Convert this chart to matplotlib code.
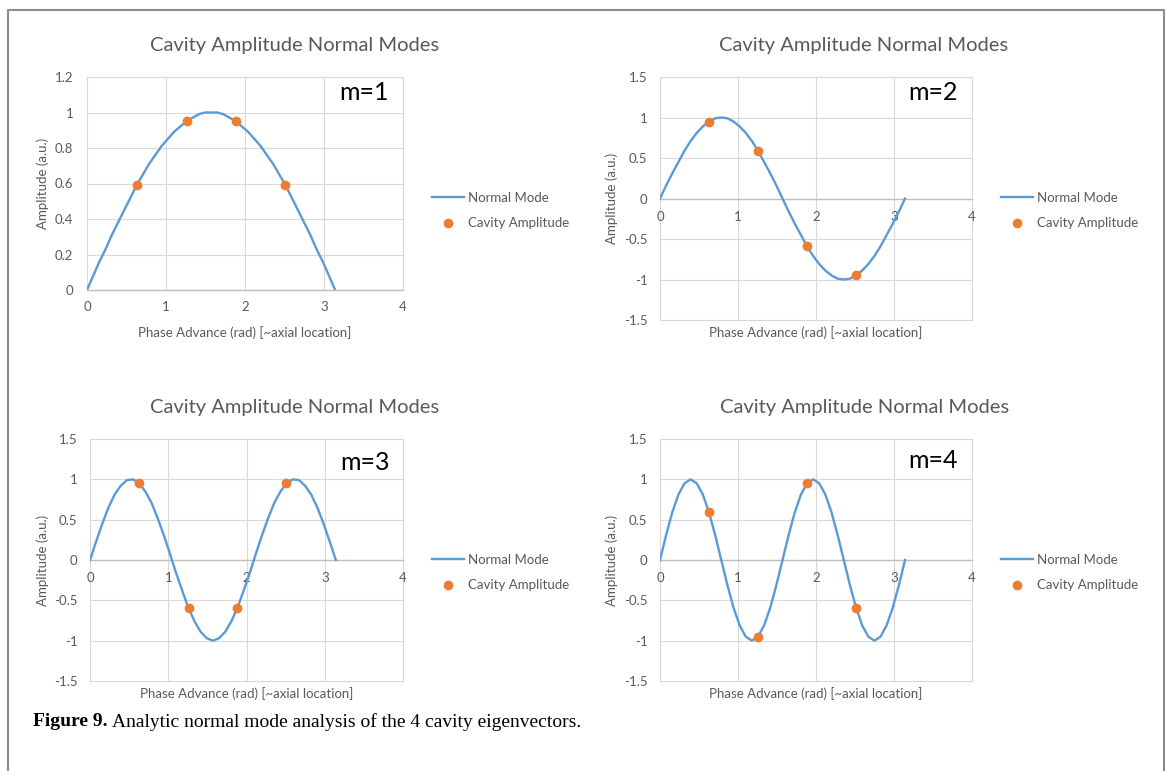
import numpy as np
import matplotlib.pyplot as plt
from matplotlib.lines import Line2D

plt.rcParams['font.family'] = ['Lato', 'DejaVu Sans']

## normal mode curves on a 41 point phase grid (0 .. pi)
phase = np.linspace(0, 3.1416, 41)

mode_1 = [0.00, 0.08, 0.16, 0.23, 0.31, 0.38, 0.45, 0.52, 0.59, 0.65, 0.71,
          0.76, 0.81, 0.85, 0.89, 0.92, 0.95, 0.97, 0.99, 1.00, 1.00, 1.00,
          0.99, 0.97, 0.95, 0.92, 0.89, 0.85, 0.81, 0.76, 0.71, 0.65, 0.59,
          0.52, 0.45, 0.38, 0.31, 0.23, 0.16, 0.08, 0.00]
mode_2 = [0.00, 0.16, 0.31, 0.45, 0.59, 0.71, 0.81, 0.89, 0.95, 0.99, 1.00,
          0.99, 0.95, 0.89, 0.81, 0.71, 0.59, 0.45, 0.31, 0.16, 0.00, -0.16,
          -0.31, -0.45, -0.59, -0.71, -0.81, -0.89, -0.95, -0.99, -1.00,
          -0.99, -0.95, -0.89, -0.81, -0.71, -0.59, -0.45, -0.31, -0.16, 0.00]
mode_3 = [0.00, 0.23, 0.45, 0.65, 0.81, 0.92, 0.99, 1.00, 0.95, 0.85, 0.71,
          0.52, 0.31, 0.08, -0.16, -0.38, -0.59, -0.76, -0.89, -0.97, -1.00,
          -0.97, -0.89, -0.76, -0.59, -0.38, -0.16, 0.08, 0.31, 0.52, 0.71,
          0.85, 0.95, 1.00, 0.99, 0.92, 0.81, 0.65, 0.45, 0.23, 0.00]
mode_4 = [0.00, 0.31, 0.59, 0.81, 0.95, 1.00, 0.95, 0.81, 0.59, 0.31, 0.00,
          -0.31, -0.59, -0.81, -0.95, -1.00, -0.95, -0.81, -0.59, -0.31, 0.00,
          0.31, 0.59, 0.81, 0.95, 1.00, 0.95, 0.81, 0.59, 0.31, 0.00,
          -0.31, -0.59, -0.81, -0.95, -1.00, -0.95, -0.81, -0.59, -0.31, 0.00]

## cavity amplitudes
cavity_phase = [0.63, 1.26, 1.88, 2.51]
cavity_1 = [0.59, 0.95, 0.95, 0.59]
cavity_2 = [0.95, 0.59, -0.59, -0.95]
cavity_3 = [0.95, -0.59, -0.59, 0.95]
cavity_4 = [0.59, -0.95, 0.95, -0.59]

mode_labels = ["m=1", "m=2", "m=3", "m=4"]
x_ticks = [0, 1, 2, 3, 4]
y_ticks_first = [0, 0.2, 0.4, 0.6, 0.8, 1.0, 1.2]
y_labels_first = ["0", "0.2", "0.4", "0.6", "0.8", "1", "1.2"]
y_ticks_rest = [-1.5, -1, -0.5, 0, 0.5, 1, 1.5]
y_labels_rest = ["-1.5", "-1", "-0.5", "0", "0.5", "1", "1.5"]

modes = [mode_1, mode_2, mode_3, mode_4]
cavities = [cavity_1, cavity_2, cavity_3, cavity_4]

W, H = 1170, 771
fig = plt.figure(figsize=(W/100, H/100), dpi=100)

grey = "#595959"
blue = "#5B9BD5"
orange = "#ED7D31"

## pixel boxes: left, top, right, bottom of each plot area
boxes = [(87, 77, 403, 290), (660, 77, 972, 320),
         (90, 439, 403, 681), (660, 439, 972, 681)]
title_pos = [(295, 46), (864, 46), (295, 408), (865, 408)]
m_pos = [(364, 92), (933, 92), (365, 462), (933, 460)]
xlab_y = [333, 333, 694, 694]
ylab_x = [43, 612, 43, 612]
leg_pos = [(432, 210.5), (1001, 210.5), (432, 572.5), (1001, 572.5)]


def fx(px):
    return px / W


def fy(py):
    return 1 - py / H


for i in range(4):
    l, t, r, b = boxes[i]
    ax = fig.add_axes([fx(l), fy(b), (r - l)/W, (b - t)/H])
    ax.plot(phase, modes[i], color=blue, lw=1.7, label="Normal Mode", zorder=3,
            solid_joinstyle='round')
    ax.plot(cavity_phase, cavities[i], 'o', color=orange, ms=6,
            label="Cavity Amplitude", zorder=4)

    ax.set_xlim(0, 4)
    ax.set_xticks(x_ticks)
    if i == 0:
        ax.set_ylim(0, 1.2)
        ax.set_yticks(y_ticks_first)
        ax.set_yticklabels(y_labels_first)
        xpad = 8
        ypad = 10
    else:
        ax.set_ylim(-1.5, 1.5)
        ax.set_yticks(y_ticks_rest)
        ax.set_yticklabels(y_labels_rest)
        ax.spines['bottom'].set_position(('data', 0))
        xpad = 9
        ypad = 9

    for s in ['top', 'right', 'left']:
        ax.spines[s].set_visible(False)
    ax.spines['bottom'].set_color("#BFBFBF")
    ax.spines['bottom'].set_linewidth(1.0)
    ax.spines['bottom'].set_zorder(2)
    ax.grid(True, color="#D9D9D9", lw=0.8, zorder=0)
    ax.set_axisbelow(True)
    ax.tick_params(axis='x', length=0, pad=xpad, labelsize=9.5, labelcolor=grey)
    ax.tick_params(axis='y', length=0, pad=ypad, labelsize=9.5, labelcolor=grey)
    for gl in ax.get_xgridlines() + ax.get_ygridlines():
        gl.set_clip_on(False)

    ax.legend(loc='center left', bbox_to_anchor=(fx(leg_pos[i][0]), fy(leg_pos[i][1])),
              bbox_transform=fig.transFigure, frameon=False, fontsize=9.5,
              borderpad=0, borderaxespad=0, handlelength=2.4, handletextpad=0.3,
              labelspacing=1.05, numpoints=1, labelcolor=grey)

    fig.text(fx(title_pos[i][0]), fy(title_pos[i][1]), "Cavity Amplitude Normal Modes",
             ha='center', va='center', fontsize=14.5, color=grey)
    fig.text(fx(m_pos[i][0]), fy(m_pos[i][1]), mode_labels[i],
             ha='center', va='center', fontsize=18, color='black')
    fig.text(fx((l + r)/2), fy(xlab_y[i]), "Phase Advance (rad) [~axial location]",
             ha='center', va='center', fontsize=9.5, color=grey)
    fig.text(fx(ylab_x[i]), fy((t + b)/2), "Amplitude (a.u.)", rotation=90,
             ha='center', va='center', fontsize=9.5, color=grey)

## outer frame of the figure box
frame = Line2D([fx(8), fx(8), fx(1164), fx(1164)], [0, fy(10), fy(10), 0],
               transform=fig.transFigure, color="#8C8C8C", lw=1.5)
fig.add_artist(frame)

## caption, bold label then plain text
cap1 = fig.text(fx(33), fy(722), "Figure 9.", ha='left', va='center',
                fontsize=14, fontweight='bold', family='Liberation Serif')
fig.canvas.draw()
ext = cap1.get_window_extent(renderer=fig.canvas.get_renderer())
fig.text(fx(ext.x1 + 4), fy(722), "Analytic normal mode analysis of the 4 cavity eigenvectors.",
         ha='left', va='center', fontsize=14, family='Liberation Serif')

fig.savefig("out.png", dpi=100)
